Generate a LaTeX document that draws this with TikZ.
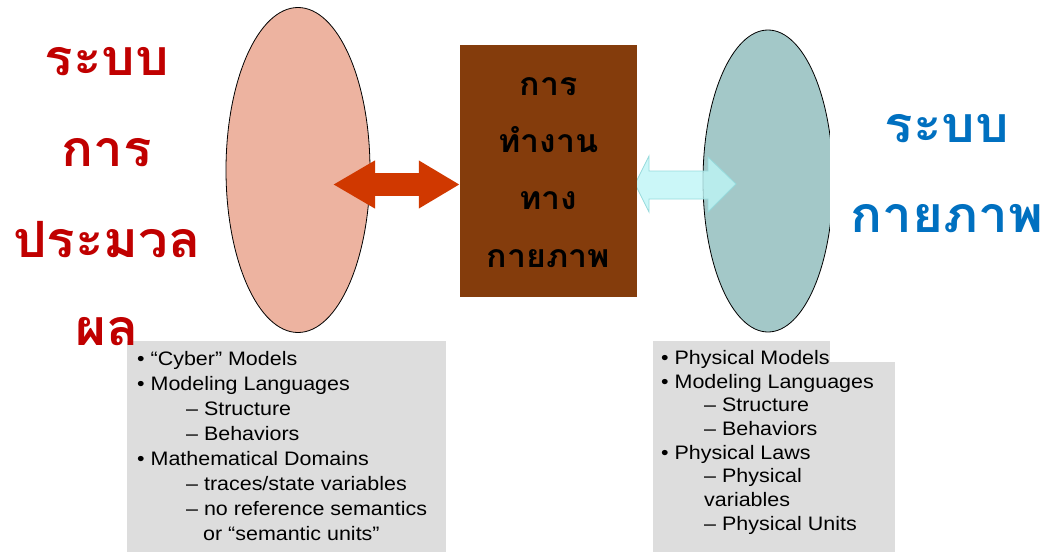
\documentclass[tikz,border=0pt]{standalone}
\usepackage{fontspec}
\setmainfont{Liberation Sans}[FakeStretch=1.1]
\newfontfamily\thaifont[Script=Thai, FakeStretch=1.06]{Loma}
\usetikzlibrary{shapes,arrows.meta,positioning,calc}
\definecolor{cyberfill}{RGB}{237,179,160}
\definecolor{physfill}{RGB}{163,200,200}
\definecolor{brownbox}{RGB}{132,60,12}
\definecolor{redarrow}{RGB}{208,56,0}
\definecolor{cyanarrow}{RGB}{190,245,246}
\definecolor{cyanedge}{RGB}{150,218,220}
\definecolor{listgray}{RGB}{221,221,221}
\definecolor{thaired}{RGB}{192,0,0}
\definecolor{thaiblue}{RGB}{0,112,192}
\tikzset{
blob/.style = {draw, ellipse, inner sep=0pt, line width=0.8pt},
midbox/.style = {fill=brownbox, rectangle, minimum width=177pt, minimum height=252pt, inner sep=0pt},
bigthai/.style = {font=\thaifont\bfseries\fontsize{50}{54}\selectfont, anchor=base, inner sep=0pt},
midthai/.style = {font=\thaifont\bfseries\fontsize{32}{36}\selectfont, anchor=base, inner sep=0pt},
listtext/.style = {anchor=north west, align=left, inner sep=0pt, font=\fontsize{19.5}{25}\selectfont}
}

\begin{document}
\begin{tikzpicture}[x=1pt, y=-1pt]
    \useasboundingbox (0,0) rectangle (1045,552);
    % the two domains
    \node[blob, fill=cyberfill, minimum width=144pt, minimum height=325pt] (cyber) at (298,170) {};
    \node[blob, fill=physfill, minimum width=130pt, minimum height=302pt] (phys) at (768,181) {};
    % gray lists
    \fill[listgray] (127,341) rectangle (446,552);
    \fill[listgray] (653,341) rectangle (895,552);
    \fill[white] (830,0) rectangle (1045,362);
    % light arrow to the physical side
    \coordinate (cyl) at (635,184);
    \filldraw[fill=cyanarrow, draw=cyanedge, line width=0.8pt, fill opacity=0.8]
        (cyl) -- (649,156) -- (649,171) -- (708,171) -- (708,157) -- (736,184)
        -- (708,212) -- (708,199) -- (649,199) -- (649,212) -- cycle;
    % middle block
    \node[midbox] (mid) at (548.5,171) {};
    \coordinate (redtip) at (333,184.5);
    \draw[redarrow, line width=23pt, {Triangle[length=42pt,width=45pt]}-{Triangle[length=41pt,width=45pt]}]
        (redtip) -- (mid.west |- redtip);
    \node[midthai] (m1) at (548.5,95) {การ};
    \node[midthai] (m2) at (548.5,152) {ทำงาน};
    \node[midthai] (m3) at (548.5,209) {ทาง};
    \node[midthai] (m4) at (548.5,267) {กายภาพ};
    % side titles
    \node[bigthai, thaired] (l1) at (107,75) {ระบบ};
    \node[bigthai, thaired] (l2) at (107,166) {การ};
    \node[bigthai, thaired] (l3) at (107,257) {ประมวล};
    \node[bigthai, thaired] (l4) at (107,345) {ผล};
    \node[bigthai, thaiblue] (r1) at (947,142) {ระบบ};
    \node[bigthai, thaiblue] (r2) at (947,232) {กายภาพ};
    % list texts
    \node[listtext] (cyberlist) at (137,351) {%
        • “Cyber” Models\\
        • Modeling Languages\\
        \hspace*{49pt}– Structure\\
        \hspace*{49pt}– Behaviors\\
        • Mathematical Domains\\
        \hspace*{49pt}– traces/state variables\\
        \hspace*{49pt}– no reference semantics\\
        \hspace*{66pt}or “semantic units”};
    \node[listtext, font=\fontsize{19.5}{23.7}\selectfont] (physlist) at (661,350) {%
        • Physical Models\\
        • Modeling Languages\\
        \hspace*{43pt}– Structure\\
        \hspace*{43pt}– Behaviors\\
        • Physical Laws\\
        \hspace*{43pt}– Physical\\
        \hspace*{43pt}variables\\
        \hspace*{43pt}– Physical Units};
\end{tikzpicture}
\end{document}
